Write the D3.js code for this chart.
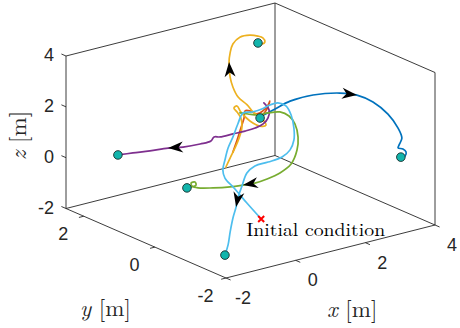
<!DOCTYPE html>
<html>
<head>
<meta charset="utf-8">
<script src="https://cdn.jsdelivr.net/npm/d3@7"></script>
<style>
  body { margin: 0; background: #fff; }
  svg { display: block; }
</style>
</head>
<body>
<svg width="460" height="328"></svg>
<script>
// axis limits and ticks
const xLim = [-2, 4], yLim = [-2, 2.5], zLim = [-2, 4];
const xTicks = [-2, 0, 2, 4];
const yTicks = [-2, 0, 2];
const zTicks = [-2, 0, 2, 4];

// trajectories, [x, y, z] in metres
const trajBlue = [[-0.46,-1.5,3.53],[-0.08,-1.5,3.68],[0.35,-1.5,3.84],[1.01,-1.5,3.85],[1.78,-1.5,3.66],[2.27,-1.5,3.41],[2.73,-1.5,2.98],[3.16,-1.5,2.35],[3.45,-1.5,1.70],[3.56,-1.5,1.27],[3.48,-1.5,1.03],[3.45,-1.5,0.92],[3.59,-1.5,0.83],[3.68,-1.5,0.68],[3.65,-1.5,0.53],[3.53,-1.5,0.53]];
const trajOrange = [[0.24,0,0.96],[0.36,0,1.39],[0.47,0,1.83],[0.56,0,2.19],[0.59,0,2.46],[0.73,0,2.41],[0.93,0,2.22],[1.10,0,2.28],[1.25,0,2.46],[1.30,0,2.60],[1.22,0,2.32],[1.02,0,2.03]];
const trajYellow = [[1.57,1.5,-1.00],[1.69,1.5,-0.69],[1.83,1.5,-0.34],[1.95,1.5,0.01],[2.03,1.5,0.41],[2.00,1.5,0.78],[1.89,1.5,1.05],[1.80,1.5,1.24],[1.89,1.5,1.29],[2.00,1.5,1.01],[2.26,1.5,0.57],[2.55,1.5,0.27],[2.72,1.5,0.25],[2.61,1.5,0.53],[2.35,1.5,0.89],[2.18,1.5,1.23],[1.92,1.5,1.63],[1.77,1.5,2.08],[1.69,1.5,2.50],[1.66,1.5,3.10],[1.69,1.5,3.44],[1.77,1.5,3.77],[1.97,1.5,3.97],[2.26,1.5,3.95],[2.49,1.5,3.83],[2.63,1.5,3.71],[2.69,1.5,3.53],[2.61,1.5,3.48],[2.49,1.5,3.56]];
const trajPurple = [[3.17,2,0.66],[3.32,2,0.33],[3.29,2,0.03],[3.15,2,-0.16],[2.92,2,-0.24],[2.63,2,-0.26],[2.28,2,-0.25],[1.91,2,-0.24],[1.74,2,-0.18],[1.65,2,-0.31],[1.34,2,-0.32],[0.85,2,-0.27],[0.42,2,-0.16],[-0.10,2,-0.09],[-0.59,2,0.00],[-1.02,2,0.07]];
const trajGreen = [[0.44,0,2.43],[0.67,0,2.31],[0.96,0,2.17],[1.25,0,2.15],[1.59,0,2.07],[1.85,0,1.82],[2.02,0,1.45],[2.11,0,0.90],[2.08,0,0.40],[1.91,0,-0.09],[1.59,0,-0.33],[1.22,0,-0.44],[0.87,0,-0.48],[0.53,0,-0.44],[0.16,0,-0.38],[-0.33,0,-0.25],[-0.76,0,-0.10],[-0.93,0,0.03],[-0.96,0,0.16],[-0.85,0,0.16],[-0.82,0,0.03],[-1.08,0,0.01]];
const trajLightBlue = [[-0.48,-1.5,-0.51],[-0.89,-1.5,0.26],[-1.26,-1.5,0.98],[-1.52,-1.5,1.46],[-1.58,-1.5,1.80],[-1.52,-1.5,2.17],[-1.43,-1.5,2.61],[-1.29,-1.5,3.00],[-1.15,-1.5,3.46],[-1.00,-1.5,3.84],[-0.74,-1.5,3.79],[-0.46,-1.5,3.81],[-0.23,-1.5,3.89],[0.00,-1.5,3.89],[0.23,-1.5,3.69],[0.38,-1.5,3.28],[0.46,-1.5,2.74],[0.46,-1.5,2.27],[0.35,-1.5,1.92],[0.12,-1.5,1.72],[-0.28,-1.5,1.66],[-0.66,-1.5,1.64],[-0.89,-1.5,1.44],[-1.03,-1.5,0.98],[-1.15,-1.5,0.55],[-1.20,-1.5,0.21],[-1.29,-1.5,-0.19],[-1.37,-1.5,-0.71],[-1.43,-1.5,-1.20],[-1.52,-1.5,-1.57]];

const trajectories = [trajBlue, trajOrange, trajYellow, trajPurple, trajGreen, trajLightBlue];
const trajColors = ["#0072BD", "#D95319", "#EDB120", "#7E2F8E", "#77AC30", "#4DBEEE"];
// index of the point where the direction arrow sits (-1: none)
const arrowIdx = [5, -1, 19, 12, 13, 25];

const initialCondition = [-0.48, -1.5, -0.51];

// projection of the box (view of the 3-D axes)
const fx = d3.scaleLinear().domain(xLim).range([0, 1]);
const fy = d3.scaleLinear().domain(yLim).range([0, 1]);
const fz = d3.scaleLinear().domain(zLim).range([0, 1]);
const origin = [226, 278];
const ex = [209, -53], ey = [-160, -69.5], ez = [0, -152.5];

function proj(p) {
  const a = fx(p[0]), b = fy(p[1]), c = fz(p[2]);
  return [origin[0] + a * ex[0] + b * ey[0] + c * ez[0],
          origin[1] + a * ex[1] + b * ey[1] + c * ez[1]];
}

const svg = d3.select("svg");
const axisColor = "#262626";

// box edges
const [x0, x1] = xLim, [y0, y1] = yLim, [z0, z1] = zLim;
const edges = [
  [[x0, y0, z0], [x1, y0, z0]],
  [[x0, y0, z0], [x0, y1, z0]],
  [[x0, y1, z0], [x1, y1, z0]],
  [[x1, y0, z0], [x1, y1, z0]],
  [[x0, y1, z0], [x0, y1, z1]],
  [[x1, y1, z0], [x1, y1, z1]],
  [[x1, y0, z0], [x1, y0, z1]],
  [[x0, y1, z1], [x1, y1, z1]],
  [[x1, y0, z1], [x1, y1, z1]]
];
svg.append("g").selectAll("line").data(edges).enter().append("line")
  .attr("x1", d => proj(d[0])[0]).attr("y1", d => proj(d[0])[1])
  .attr("x2", d => proj(d[1])[0]).attr("y2", d => proj(d[1])[1])
  .attr("stroke", axisColor).attr("stroke-width", 0.9);

function unit(v) { const l = Math.hypot(v[0], v[1]); return [v[0] / l, v[1] / l]; }
const tickLen = 5;
const ticks = svg.append("g").attr("stroke", axisColor).attr("stroke-width", 0.9);
const labels = svg.append("g")
  .attr("font-family", "'Liberation Sans', Arial, sans-serif")
  .attr("font-size", 18).attr("fill", axisColor);

// x ticks (front bottom edge)
const dX = unit([-ey[0], -ey[1]]);
xTicks.forEach(t => {
  const p = proj([t, y0, z0]);
  ticks.append("line").attr("x1", p[0]).attr("y1", p[1])
    .attr("x2", p[0] + dX[0] * tickLen).attr("y2", p[1] + dX[1] * tickLen);
  labels.append("text").attr("x", p[0] + 17).attr("y", p[1] + 20)
    .attr("text-anchor", "middle").attr("dominant-baseline", "central").text(t);
});
// y ticks
const dY = unit([-ex[0], -ex[1]]);
yTicks.forEach(t => {
  const p = proj([x0, t, z0]);
  ticks.append("line").attr("x1", p[0]).attr("y1", p[1])
    .attr("x2", p[0] + dY[0] * tickLen).attr("y2", p[1] + dY[1] * tickLen);
  labels.append("text").attr("x", p[0] - 20.5).attr("y", p[1] + 17.5)
    .attr("text-anchor", "middle").attr("dominant-baseline", "central").text(t);
});
// z ticks
const dZ = unit(ey);
zTicks.forEach(t => {
  const p = proj([x0, y1, t]);
  ticks.append("line").attr("x1", p[0]).attr("y1", p[1])
    .attr("x2", p[0] + dZ[0] * tickLen).attr("y2", p[1] + dZ[1] * tickLen);
  labels.append("text").attr("x", p[0] - 12).attr("y", p[1] - 1)
    .attr("text-anchor", "end").attr("dominant-baseline", "central").text(t);
});

// axis titles
const serif = "'Latin Modern Roman', 'CMU Serif', 'Liberation Serif', 'DejaVu Serif', serif";
function axisTitle(g, v) {
  const t = g.append("text").attr("font-family", serif).attr("font-size", 23).attr("fill", axisColor);
  t.append("tspan").attr("font-style", "italic").text(v);
  t.append("tspan").text(" [m]");
  return t;
}
axisTitle(svg.append("g").attr("transform", "translate(327,317)"), "x");
axisTitle(svg.append("g").attr("transform", "translate(80,316)"), "y");
axisTitle(svg.append("g").attr("transform", "translate(26,160) rotate(-90)"), "z");

// trajectories
const line = d3.line().curve(d3.curveCatmullRom.alpha(0.5));
const paths = svg.append("g").attr("fill", "none").attr("stroke-width", 1.7)
  .attr("stroke-linejoin", "round").attr("stroke-linecap", "round");
trajectories.forEach((tr, i) => {
  paths.append("path").attr("d", line(tr.map(proj))).attr("stroke", trajColors[i]);
});

// direction arrows
const arrows = svg.append("g").attr("fill", "#000");
trajectories.forEach((tr, i) => {
  const k = arrowIdx[i];
  if (k < 1) return;
  const a = proj(tr[k - 1]), b = proj(tr[k]);
  const ang = Math.atan2(b[1] - a[1], b[0] - a[0]) * 180 / Math.PI;
  arrows.append("path")
    .attr("d", "M0,0 L-15,-5.5 L-10.5,0 L-15,5.5 Z")
    .attr("transform", `translate(${b[0]},${b[1]}) rotate(${ang})`);
});

// final positions
svg.append("g").selectAll("circle").data(trajectories.map(tr => proj(tr[tr.length - 1])))
  .enter().append("circle")
  .attr("cx", d => d[0]).attr("cy", d => d[1]).attr("r", 4.3)
  .attr("fill", "#12B5AC").attr("stroke", "#1c2b2a").attr("stroke-width", 0.9);

// initial condition
const ic = proj(initialCondition);
svg.append("path")
  .attr("d", `M${ic[0] - 3},${ic[1] - 3}L${ic[0] + 3},${ic[1] + 3}M${ic[0] - 3},${ic[1] + 3}L${ic[0] + 3},${ic[1] - 3}`)
  .attr("stroke", "#ff0000").attr("stroke-width", 2);
svg.append("text").attr("x", ic[0] - 15).attr("y", ic[1] + 17)
  .attr("font-family", serif).attr("font-size", 18).attr("fill", "#000")
  .attr("textLength", 139).attr("lengthAdjust", "spacingAndGlyphs")
  .text("Initial condition");
</script>
</body>
</html>
